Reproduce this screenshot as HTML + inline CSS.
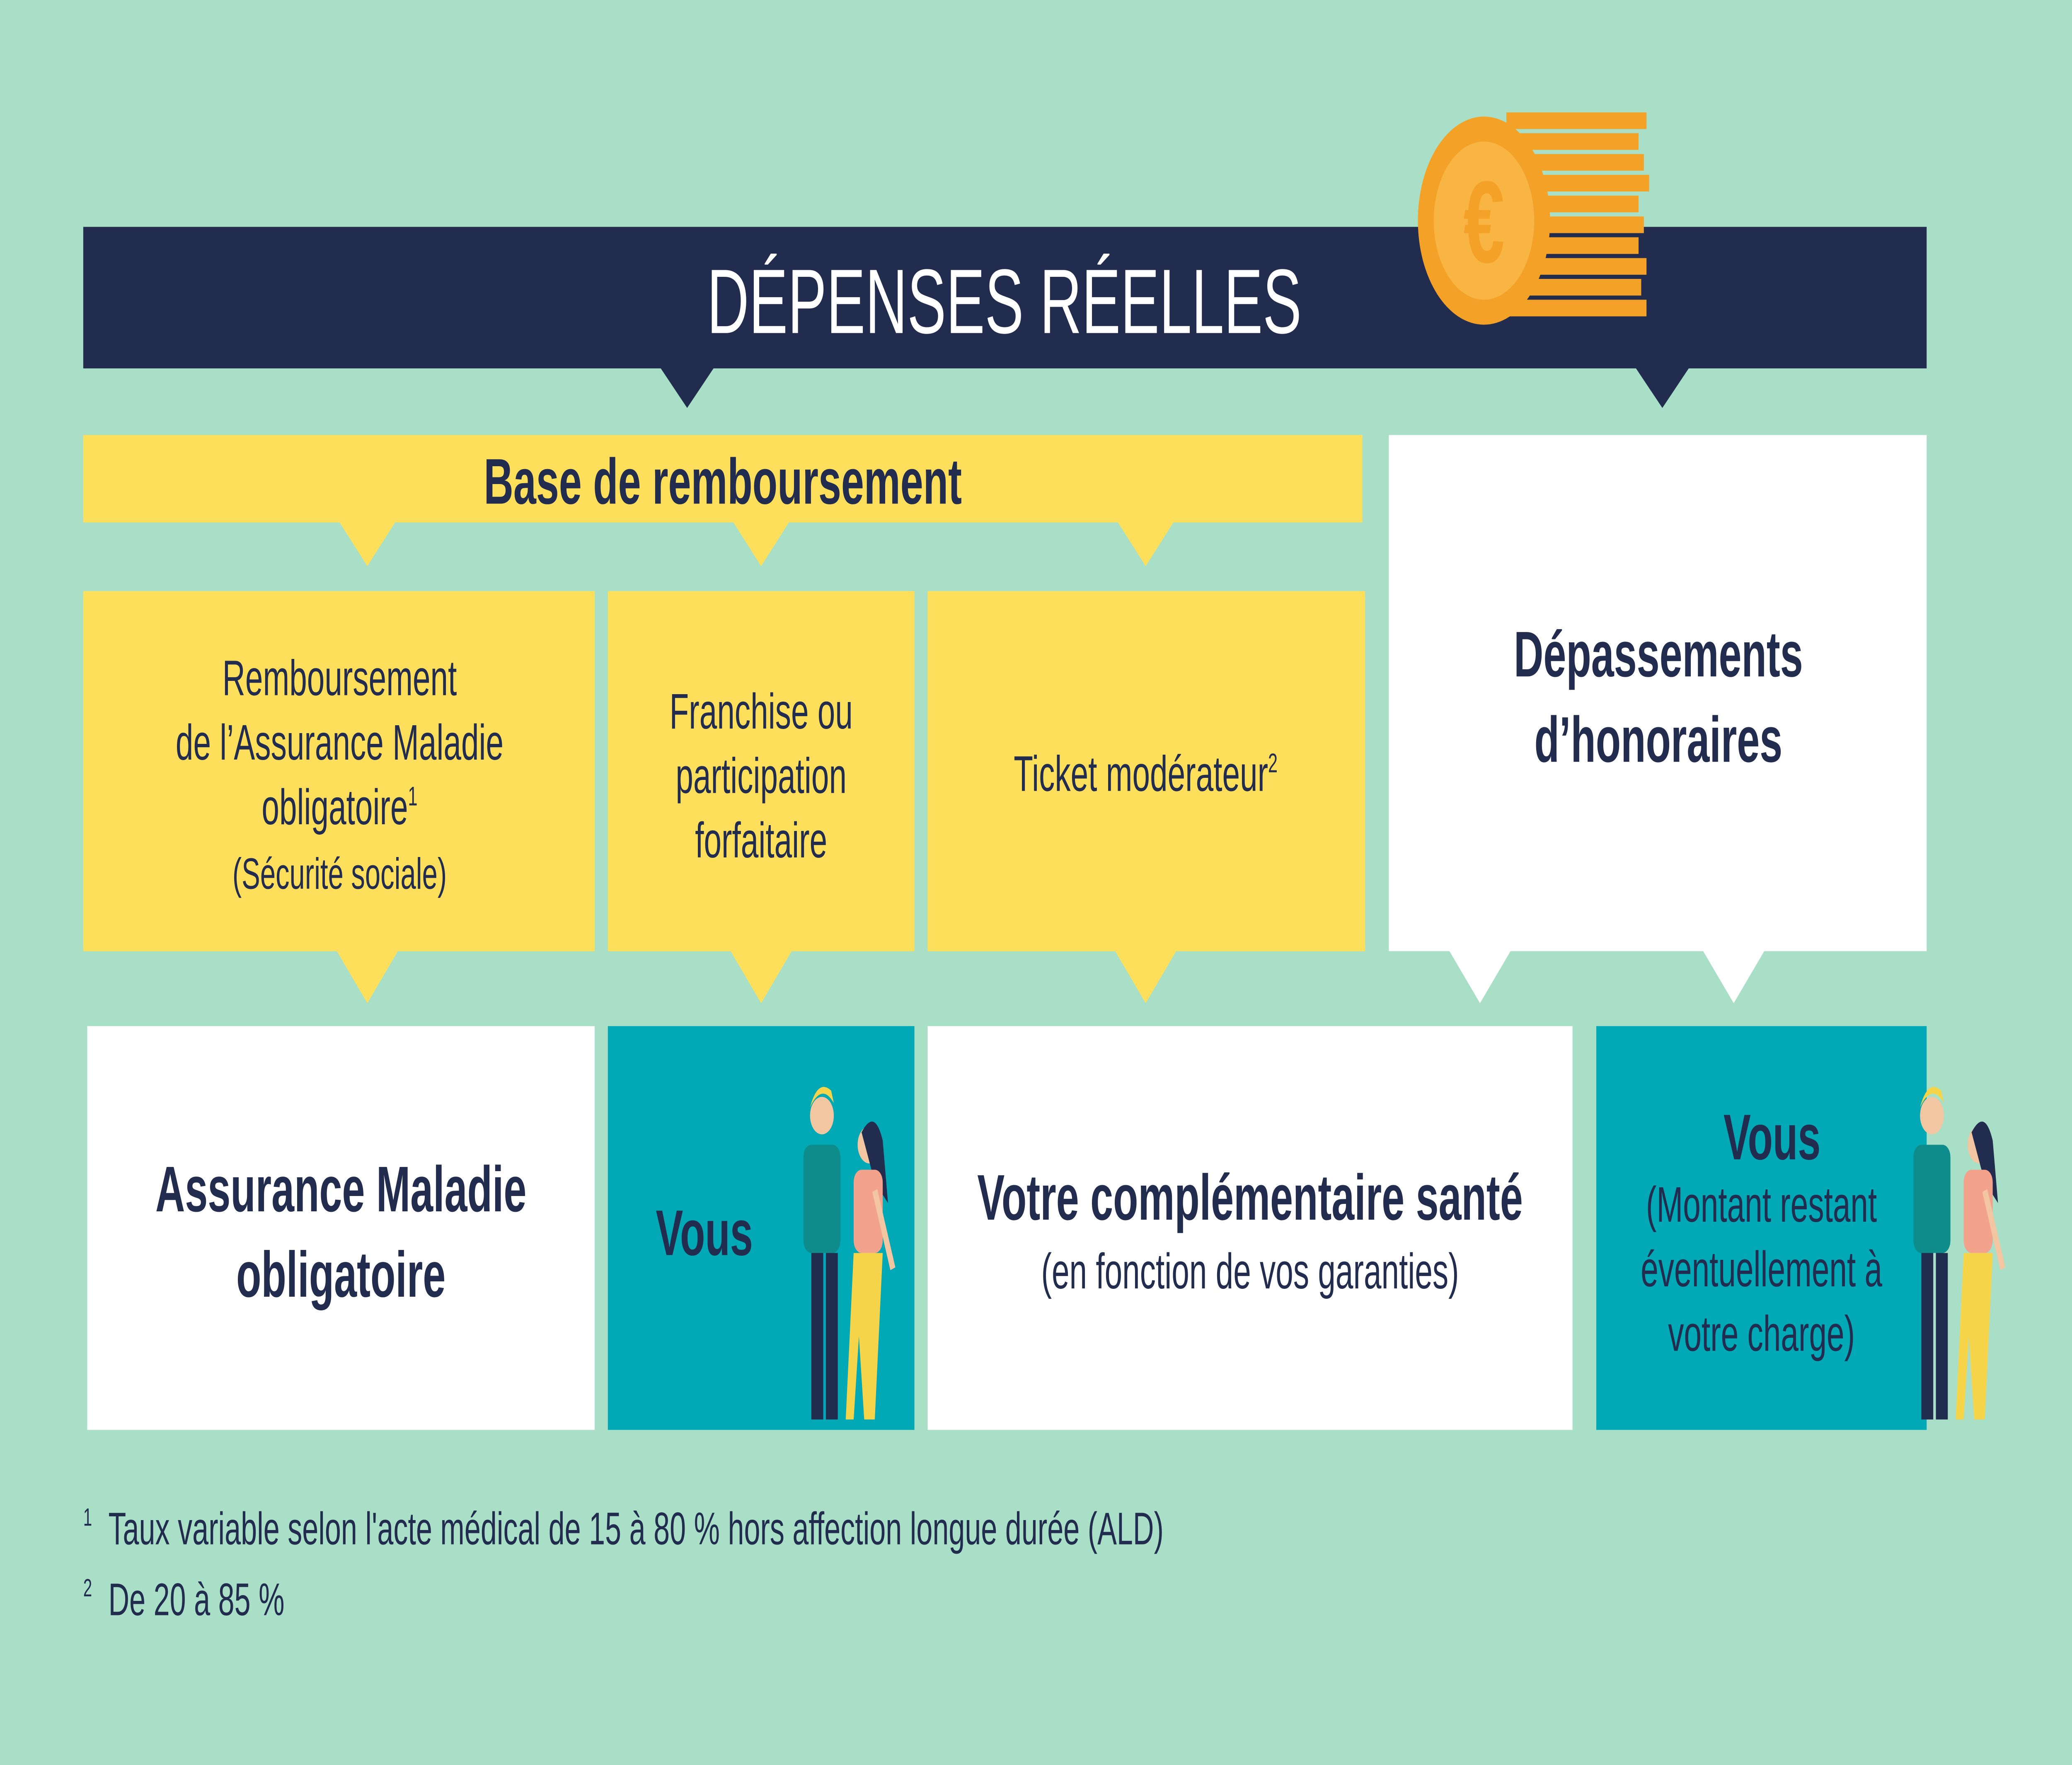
<!DOCTYPE html>
<html><head><meta charset="utf-8"><style>
html,body{margin:0;padding:0;width:100%;height:100%;overflow:hidden;background:#a9dfc6;}
svg{position:absolute;left:0;top:0;width:100vw;height:100vh;display:block;}
text{font-family:"Liberation Sans",sans-serif;fill:#212c4f;}
</style></head><body>
<svg viewBox="0 0 1568 848" preserveAspectRatio="none" xmlns="http://www.w3.org/2000/svg">
<rect width="1568" height="848" fill="#a9dfc6"/>
<rect x="63" y="109" width="1395" height="68" fill="#212c4f"/>
<polygon points="499,176 541,176 520,196" fill="#212c4f"/>
<polygon points="1237,176 1279,176 1258,196" fill="#212c4f"/>
<text x="760" y="160" font-size="44" text-anchor="middle" style="fill:#fff">DÉPENSES RÉELLES</text>
<g transform="translate(1070,50)">
<g fill="#f4a127"><rect x="70" y="4" width="106" height="8"/><rect x="70" y="14" width="100" height="8"/><rect x="70" y="24" width="104" height="8"/><rect x="70" y="34" width="108" height="8"/><rect x="70" y="44" width="100" height="8"/><rect x="70" y="54" width="104" height="8"/><rect x="70" y="64" width="100" height="8"/><rect x="70" y="74" width="106" height="8"/><rect x="70" y="84" width="102" height="8"/><rect x="70" y="94" width="106" height="8"/></g>
<circle cx="53" cy="56" r="50" fill="#f4a127"/><circle cx="53" cy="56" r="38" fill="#f8b544"/>
<text x="53" y="76" font-size="56" font-weight="bold" text-anchor="middle" style="fill:#f4a127">€</text>
</g>
<rect x="63" y="209" width="968" height="42" fill="#fddf5b"/>
<text x="547" y="242" font-size="31" font-weight="bold" text-anchor="middle">Base de remboursement</text>
<g fill="#fddf5b">
<polygon points="256,250 300,250 278,272"/><polygon points="554,250 598,250 576,272"/><polygon points="845,250 889,250 867,272"/>
<rect x="63" y="284" width="387" height="173"/><rect x="460" y="284" width="232" height="173"/><rect x="702" y="284" width="331" height="173"/>
<polygon points="254,456 302,456 278,482"/><polygon points="552,456 600,456 576,482"/><polygon points="843,456 891,456 867,482"/>
</g>
<g font-size="24" text-anchor="middle">
<text x="257" y="334">Remboursement</text>
<text x="257" y="365">de l’Assurance Maladie</text>
<text x="257" y="396">obligatoire<tspan font-size="13" dy="-9">1</tspan></text>
<text x="257" y="427" font-size="21">(Sécurité sociale)</text>
<text x="576" y="350">Franchise ou</text>
<text x="576" y="381">participation</text>
<text x="576" y="412">forfaitaire</text>
<text x="867" y="380">Ticket modérateur<tspan font-size="13" dy="-9">2</tspan></text>
</g>
<rect x="1051" y="209" width="407" height="248" fill="#fff"/>
<polygon points="1096,456 1144,456 1120,482" fill="#fff"/>
<polygon points="1288,456 1336,456 1312,482" fill="#fff"/>
<text x="1255" y="325" font-size="31" font-weight="bold" text-anchor="middle">Dépassements</text>
<text x="1255" y="366" font-size="31" font-weight="bold" text-anchor="middle">d’honoraires</text>
<rect x="66" y="493" width="384" height="194" fill="#fff"/>
<rect x="460" y="493" width="232" height="194" fill="#00a9b5"/>
<rect x="702" y="493" width="488" height="194" fill="#fff"/>
<rect x="1208" y="493" width="250" height="194" fill="#00a9b5"/>
<text x="258" y="582" font-size="31" font-weight="bold" text-anchor="middle">Assurance Maladie</text>
<text x="258" y="623" font-size="31" font-weight="bold" text-anchor="middle">obligatoire</text>
<text x="533" y="603" font-size="31" font-weight="bold" text-anchor="middle">Vous</text>
<text x="946" y="586" font-size="31" font-weight="bold" text-anchor="middle">Votre complémentaire santé</text>
<text x="946" y="619" font-size="24" text-anchor="middle">(en fonction de vos garanties)</text>
<text x="1341" y="557" font-size="31" font-weight="bold" text-anchor="middle">Vous</text>
<text x="1333" y="587" font-size="24" text-anchor="middle">(Montant restant</text>
<text x="1333" y="618" font-size="24" text-anchor="middle">éventuellement à</text>
<text x="1333" y="649" font-size="24" text-anchor="middle">votre charge)</text>
<defs><g id="pp">
<circle cx="22" cy="14" r="9" fill="#f2c6a0"/><path d="M13 10 q9 -12 18 -2 l-2 -6 q-10 -6 -16 8z" fill="#f5d44a"/>
<rect x="8" y="28" width="28" height="52" rx="6" fill="#0e8c8c"/>
<rect x="14" y="80" width="9" height="80" fill="#212c4f"/><rect x="25" y="80" width="9" height="80" fill="#212c4f"/>
<circle cx="58" cy="28" r="9" fill="#f2c6a0"/><path d="M52 22 q10 -12 16 4 l4 30 -10 -10z" fill="#212c4f"/>
<rect x="46" y="40" width="22" height="40" rx="6" fill="#f3a38c"/>
<path d="M46 80 h22 l-6 80 h-8 l-4 -40 -4 40 h-6z" fill="#f5d44a"/>
<rect x="60" y="50" width="4" height="40" fill="#f2c6a0" transform="rotate(-20 62 50)"/>
</g></defs>
<use href="#pp" x="600" y="522"/>
<use href="#pp" x="1440" y="522"/>
<text x="63" y="742" font-size="22"><tspan font-size="12" dy="-9">1</tspan><tspan x="82" dy="9">Taux variable selon l'acte médical de 15 à 80 % hors affection longue durée (ALD)</tspan></text>
<text x="63" y="776" font-size="22"><tspan font-size="12" dy="-9">2</tspan><tspan x="82" dy="9">De 20 à 85 %</tspan></text>
</svg>
</body></html>
